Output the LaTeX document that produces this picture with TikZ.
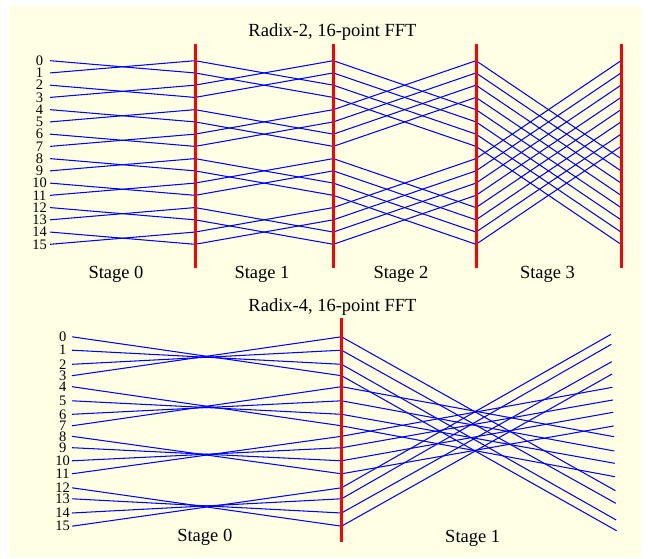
\documentclass[tikz,border=0pt]{standalone}
\usepackage{fontspec}
\setmainfont{Liberation Serif}
\definecolor{bgyellow}{RGB}{255,255,228}
\begin{document}
\begin{tikzpicture}[x=1pt,y=-1pt,
  wire/.style={blue, line width=1.05pt},
  stagebar/.style={red, line width=3pt},
  lbl/.style={font=\fontsize{14.5}{14.5}\selectfont, inner sep=0pt},
  captxt/.style={font=\fontsize{18.5}{18.5}\selectfont, inner sep=0pt, anchor=base}]
\useasboundingbox (0,0) rectangle (649,559);
\fill[bgyellow] (9,6) rectangle (641,557);

% ---------- Radix-2 ----------
\foreach \c/\xx in {0/50,1/195,2/333.3,3/476,4/621}
  \foreach \i in {0,...,15}
    \coordinate (p\c-\i) at (\xx,{60.7+12.24*\i});
\foreach \i in {0,...,15}
  \node[lbl] (la-\i) at (39.5,{60.7+12.24*\i}) {\i};
\foreach \s/\d in {0/1,1/2,2/4,3/8} {
  \pgfmathtruncatemacro\nxt{\s+1}
  \foreach \i in {0,...,15} {
    \pgfmathtruncatemacro\jj{mod(floor(\i/\d),2)==0 ? \i+\d : \i-\d}
    \draw[wire] (p\s-\i) -- (p\nxt-\jj);
  }
}
\foreach \xx in {195,333.3,476,621}
  \draw[stagebar] (\xx,44.3) -- (\xx,268.3);
\node[captxt] (ta) at (332.5,36.5) {Radix-2, 16-point FFT};
\node[captxt] (sa0) at (116,279) {Stage 0};
\node[captxt] (sa1) at (262,279) {Stage 1};
\node[captxt] (sa2) at (401,279) {Stage 2};
\node[captxt] (sa3) at (547.5,279) {Stage 3};

% ---------- Radix-4 ----------
\foreach \i in {0,...,15} {
  \pgfmathsetmacro\ya{{336.8,350.2,364.3,375.7,386.7,400.8,414.3,425.8,436.3,447.7,460.8,473.8,487.8,498.8,513,526.2}[\i]}
  \pgfmathsetmacro\yb{{334.3,344.3,361.7,374,387.3,400,412.3,426,436.7,451,463.3,476.7,490.7,503.3,520,530.7}[\i]}
  \coordinate (q0-\i) at (72,\ya);
  \coordinate (q1-\i) at (341.5,\ya);
  \coordinate (q2-\i) at ({611+0.37*\i},\yb);
  \node[lbl] (lb-\i) at (62.7,\ya) {\i};
}
\foreach \i in {0,...,15} {
  \pgfmathtruncatemacro\jj{4*floor(\i/4)+3-mod(\i,4)}
  \draw[wire] (q0-\i) -- (q1-\jj);
  \pgfmathtruncatemacro\kk{12-4*floor(\i/4)+mod(\i,4)}
  \draw[wire] (q1-\i) -- (q2-\kk);
}
\draw[stagebar] (341.5,318.3) -- (341.5,541.7);
\node[captxt] (tb) at (332.5,311.7) {Radix-4, 16-point FFT};
\node[captxt] (sb0) at (204.8,541.5) {Stage 0};
\node[captxt] (sb1) at (472.7,542) {Stage 1};
\end{tikzpicture}
\end{document}
